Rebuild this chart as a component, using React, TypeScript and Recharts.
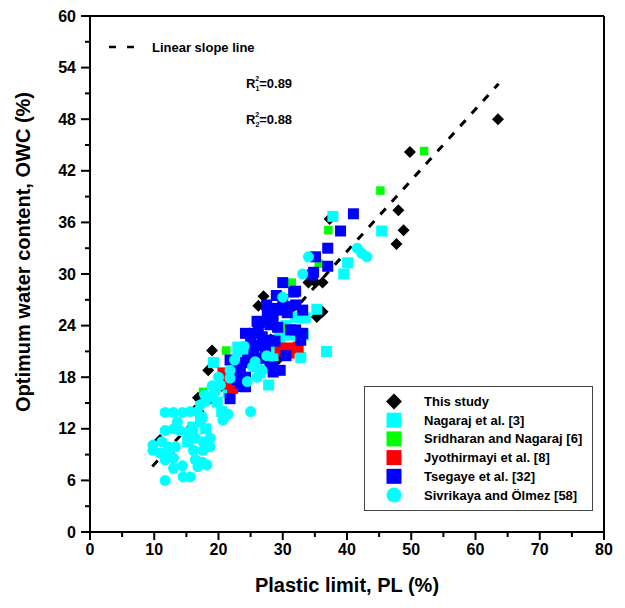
import React from "react";
import { ScatterChart, Scatter, XAxis, YAxis, ReferenceLine, Legend } from "recharts";

type Pt = [number, number];

// plastic limit (%) vs optimum water content (%)
const THIS_STUDY: Pt[] = [
  [63.5, 48], [49.8, 44.2], [48, 37.4], [48.8, 35.1], [47.7, 33.5], [37.3, 36.4],
  [34, 29], [35.1, 29], [36.2, 29], [36.2, 25.6], [35.3, 25], [27, 27.4], [26.2, 26.3],
  [19, 21.1], [29.3, 20.1], [18.4, 18.8], [16.8, 15.6], [16.4, 14.2], [10.9, 10.7], [13, 8.6],
];
const NAGARAJ: Pt[] = [
  [45.4, 35], [37.8, 36.7], [40.1, 31.3], [39.5, 30], [35.3, 25.9], [32, 25], [32.8, 24.9],
  [33.5, 24.9], [30.7, 23.1], [32.8, 23.1], [31.2, 22.9], [33.2, 22.9], [36.8, 21], [32.8, 20.3],
  [27.8, 17.1], [19.2, 19.7], [19.8, 15.1], [28.5, 20.5], [29.5, 22.5], [26, 20], [22.5, 19.5],
  [24, 18], [23, 21.5], [17.2, 13.3], [18, 12], [20.5, 14], [16, 12.2], [15.2, 10.5], [21.5, 16.2],
  [22, 17.5], [30.5, 24], [28, 21.8], [24.5, 21], [20.8, 17.8], [26.5, 18.5],
];
const SRIDHARAN: Pt[] = [
  [52, 44.3], [45.2, 39.7], [37.1, 35.1], [35.6, 31.2], [31.4, 29], [21.2, 21.1], [17.6, 16.3], [30, 23.8],
];
const JYOTHIRMAYI: Pt[] = [
  [20.7, 18.5], [21.5, 17.8], [22.2, 16.7], [21.3, 17.2], [29.6, 21.4], [31.2, 21.4], [32.4, 21.5],
  [31, 20.8], [30.2, 21], [23, 18.5],
];
const TSEGAYE: Pt[] = [
  [41, 37], [39, 35], [37, 33], [35.1, 32], [37, 30.9], [34.8, 30.2], [34.6, 29.9], [30, 29],
  [32, 28], [31.7, 27.9], [30.7, 26.2], [32, 26.4], [33.1, 25.8], [32, 23.5], [33.1, 23.1],
  [31.2, 23.5], [32.8, 22.3], [28.5, 18.6], [23.9, 16.9], [21.8, 15.5], [28.9, 26], [29.6, 25.8],
  [30.7, 25.5], [27.6, 25.5], [28.5, 25], [27, 24.4], [28, 24.1], [29.2, 23.8], [24.2, 23.1],
  [25.4, 23.1], [26.8, 22.7], [27.8, 22.3], [25, 22], [26.2, 21.7], [27.3, 21.4], [21.8, 20],
  [23, 19.4], [24.2, 19.7], [23.4, 18.5], [24.2, 18], [23.4, 17.3], [28.5, 19.1], [29.6, 18.8],
  [24.5, 20], [25.4, 19.6], [28, 19.2], [22.3, 19.2], [22.9, 17.7], [26.2, 23.7], [27.5, 26.4],
  [30, 27], [29, 27.5], [26, 24.5], [25.5, 21], [28.8, 22.2], [27, 20.2], [30.5, 20.5], [24.2, 16.9],
];
const SIVRIKAYA: Pt[] = [
  [19, 17], [20.3, 17.1], [17.9, 15.9], [18.7, 15.7], [17.2, 14.8], [11.7, 13.9], [13, 13.9],
  [14.4, 13.9], [15.6, 14], [16.7, 14], [20.7, 14], [21.5, 13.7], [25, 14], [17.5, 13.3],
  [17.2, 12.8], [20.7, 13], [13.6, 12.8], [11.7, 11.8], [13, 12], [14, 11.8], [15.1, 11.6],
  [15.9, 11.5], [9.8, 10.1], [11.2, 10.5], [12.2, 9.9], [13.3, 9.9], [9.8, 9.5], [10.9, 9.2],
  [12, 9.2], [11.7, 8.4], [13, 8.6], [13, 7.4], [14.4, 7.7], [16.4, 10.9], [17.6, 10.5],
  [18.7, 10.9], [16.1, 9.5], [17.6, 9.5], [18.7, 9.9], [16.4, 8.4], [17.5, 8.1], [16.8, 7.6],
  [18.2, 7.8], [11.7, 6], [14.5, 6.4], [15.6, 6.4], [18, 15.2], [19.5, 16.3], [23, 20.9],
  [21.8, 18.8], [21.8, 17.9], [25.3, 19.2], [26.8, 18.8], [30, 27.3], [33.1, 30], [34, 32],
  [41.6, 33], [42.3, 32.4], [43.1, 32], [27.5, 20.5], [24.5, 17.5], [26, 18], [24, 21.6],
  [22.5, 20], [20, 18], [25.7, 19.8],
];

const X_TICKS = [0, 5, 10, 15, 20, 25, 30, 35, 40, 45, 50, 55, 60, 65, 70, 75, 80];
const Y_TICKS = [0, 3, 6, 9, 12, 15, 18, 21, 24, 27, 30, 33, 36, 39, 42, 45, 48, 51, 54, 57, 60];

// linear slope line
const FIT_SLOPE = 0.826;
const FIT_INTERCEPT = -0.4;
const FIT_X: [number, number] = [9.7, 63.6];
const R2_VALUES = ["0.89", "0.88"];

const FONT = "'Liberation Sans', Arial, sans-serif";

type Kind = "diamond" | "square" | "circle";

const SERIES: { name: string; data: Pt[]; color: string; kind: Kind; size: number }[] = [
  { name: "This study", data: THIS_STUDY, color: "#000000", kind: "diamond", size: 12 },
  { name: "Nagaraj et al. [3]", data: NAGARAJ, color: "#00ffff", kind: "square", size: 11 },
  { name: "Sridharan and Nagaraj [6]", data: SRIDHARAN, color: "#00ff00", kind: "square", size: 8.5 },
  { name: "Jyothirmayi et al. [8]", data: JYOTHIRMAYI, color: "#ff0000", kind: "square", size: 11 },
  { name: "Tsegaye et al. [32]", data: TSEGAYE, color: "#0000ff", kind: "square", size: 11 },
  { name: "Sivrikaya and Ölmez [58]", data: SIVRIKAYA, color: "#00ffff", kind: "circle", size: 11 },
];

function marker(kind: Kind, cx: number, cy: number, size: number, color: string) {
  const h = size / 2;
  if (kind === "diamond")
    return <polygon points={`${cx},${cy - h} ${cx + h},${cy} ${cx},${cy + h} ${cx - h},${cy}`} fill={color} />;
  if (kind === "circle") return <circle cx={cx} cy={cy} r={h} fill={color} />;
  return <rect x={cx - h} y={cy - h} width={size} height={size} fill={color} />;
}

const XTick = (props: any) => {
  const { x, y, payload } = props;
  const major = payload.value % 10 === 0;
  return (
    <g>
      <line x1={x} x2={x} y1={y} y2={y + (major ? 8 : 5)} stroke="#000" strokeWidth={2} />
      {major && (
        <text x={x} y={y + 17} dy="0.35em" textAnchor="middle" fontFamily={FONT} fontWeight={700} fontSize={16} fill="#000">
          {payload.value}
        </text>
      )}
    </g>
  );
};

const YTick = (props: any) => {
  const { x, y, payload } = props;
  const major = payload.value % 6 === 0;
  return (
    <g>
      <line x1={x - (major ? 9 : 5)} x2={x} y1={y} y2={y} stroke="#000" strokeWidth={2} />
      {major && (
        <text x={x - 14} y={y} dy="0.35em" textAnchor="end" fontFamily={FONT} fontWeight={700} fontSize={16} fill="#000">
          {payload.value}
        </text>
      )}
    </g>
  );
};

const LegendBox = () => (
  <div style={{ width: 229, height: 125, border: "1.5px solid #444", boxSizing: "border-box", background: "#fff" }}>
    <svg width={226} height={122}>
      {SERIES.map((s, i) => {
        const cy = 14.5 + i * 18.7;
        return (
          <g key={s.name}>
            {marker(s.kind, 29, cy, s.kind === "diamond" ? 16 : 15, s.color)}
            <text x={59} y={cy} dy="0.35em" fontFamily={FONT} fontWeight={700} fontSize={13} fill="#000">
              {s.name}
            </text>
          </g>
        );
      })}
    </svg>
  </div>
);

const RLabel = ({ y, idx, value }: { y: number; idx: string; value: string }) => (
  <text x={246} y={y} fontFamily={FONT} fontWeight={700} fontSize={13} fill="#000">
    R
    <tspan fontSize={7} dy={3}>{idx}</tspan>
    <tspan fontSize={7} dx={-4} dy={-10}>2</tspan>
    <tspan dy={7}>={value}</tspan>
  </text>
);

export default function App() {
  const fitY = (x: number) => FIT_SLOPE * x + FIT_INTERCEPT;
  return (
    <div style={{ position: "relative", width: 625, height: 608, background: "#fff" }}>
      <style>{"body{margin:0}"}</style>
      <ScatterChart width={625} height={608} margin={{ top: 16, right: 21, bottom: 0, left: 0 }}>
        <XAxis
          type="number"
          dataKey="x"
          domain={[0, 80]}
          ticks={X_TICKS}
          interval={0}
          height={76}
          tickSize={0}
          tickMargin={0}
          tickLine={false}
          axisLine={{ stroke: "#000", strokeWidth: 2 }}
          tick={<XTick />}
        />
        <YAxis
          type="number"
          dataKey="y"
          domain={[0, 60]}
          ticks={Y_TICKS}
          interval={0}
          width={90}
          tickSize={0}
          tickMargin={0}
          tickLine={false}
          axisLine={{ stroke: "#000", strokeWidth: 2 }}
          tick={<YTick />}
        />
        {SERIES.map((s) => (
          <Scatter
            key={s.name}
            name={s.name}
            data={s.data.map(([x, y]) => ({ x, y }))}
            fill={s.color}
            isAnimationActive={false}
            shape={(p: any) => marker(s.kind, p.cx, p.cy, s.size, s.color)}
          />
        ))}
        <ReferenceLine
          segment={[
            { x: FIT_X[0], y: fitY(FIT_X[0]) },
            { x: FIT_X[1], y: fitY(FIT_X[1]) },
          ]}
          stroke="#000"
          strokeWidth={3}
          strokeDasharray="8 9"
        />
        <ReferenceLine x={80} stroke="#000" strokeWidth={2} />
        <ReferenceLine y={60} stroke="#000" strokeWidth={2} />
        <Legend
          layout="horizontal"
          verticalAlign="middle"
          align="center"
          wrapperStyle={{ left: 364, top: 386, width: 229, height: 125 }}
          content={<LegendBox />}
        />
      </ScatterChart>
      <svg width={625} height={608} style={{ position: "absolute", left: 0, top: 0, pointerEvents: "none" }}>
        <line x1={109} x2={134} y1={47} y2={47} stroke="#000" strokeWidth={2.5} strokeDasharray="7 11" />
        <text x={152} y={52} fontFamily={FONT} fontWeight={700} fontSize={13} fill="#000">
          Linear slope line
        </text>
        <RLabel y={88} idx="1" value={R2_VALUES[0]} />
        <RLabel y={124} idx="2" value={R2_VALUES[1]} />
        <text x={347} y={592} textAnchor="middle" fontFamily={FONT} fontWeight={700} fontSize={20} fill="#000">
          Plastic limit, PL (%)
        </text>
        <text
          x={30}
          y={252}
          transform="rotate(-90 30 252)"
          textAnchor="middle"
          fontFamily={FONT}
          fontWeight={700}
          fontSize={20}
          fill="#000"
        >
          Optimum water content, OWC (%)
        </text>
      </svg>
    </div>
  );
}
